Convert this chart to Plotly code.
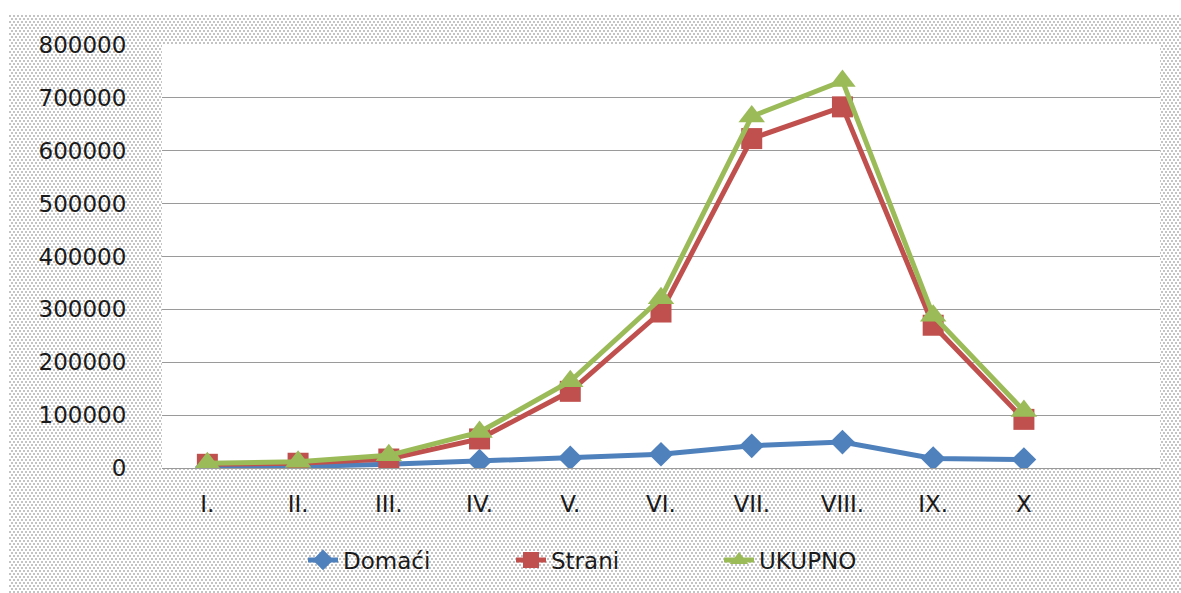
import base64
import plotly.graph_objects as go

months = ["I.", "II.", "III.", "IV.", "V.", "VI.", "VII.", "VIII.", "IX.", "X", " "]
domaci = [2000, 3000, 7000, 13000, 19000, 26000, 42000, 49000, 18000, 16000]
strani = [7000, 9000, 17000, 55000, 145000, 295000, 623000, 683000, 270000, 92000]
ukupno = [9000, 12000, 24000, 68000, 164000, 321000, 665000, 732000, 288000, 108000]
y_ticks = [0, 100000, 200000, 300000, 400000, 500000, 600000, 700000, 800000]

W, H = 1181, 593
L, R, T, B = 162, 21, 45, 125
pw, ph = W - L - R, H - T - B

# dotted background pattern (as svg image)
bx0, by0 = 9, 15
bw, bh = W - bx0, H - by0
svg = (
    f'<svg xmlns="http://www.w3.org/2000/svg" width="{bw}" height="{bh}">'
    '<defs><pattern id="p" width="4" height="6" patternUnits="userSpaceOnUse">'
    '<rect width="4" height="6" fill="#ffffff"/>'
    '<rect x="0" y="0" width="2" height="2" fill="#c4c4c4"/>'
    '<rect x="2" y="3" width="2" height="2" fill="#c4c4c4"/>'
    '</pattern></defs>'
    f'<rect width="{bw}" height="{bh}" fill="url(#p)"/></svg>'
)
src = "data:image/svg+xml;base64," + base64.b64encode(svg.encode()).decode()

def px2x(px):
    return (px - L) / pw

def py2y(py):
    return (H - B - py) / ph

blue, red, green = "#4F81BD", "#C0504D", "#9BBB59"
font = "DejaVu Sans"
fs = 23

fig = go.Figure()
fig.add_trace(go.Scatter(x=months[:10], y=domaci, name="Domaći", mode="lines+markers",
                         line=dict(color=blue, width=5),
                         marker=dict(symbol="diamond", size=19, color=blue)))
fig.add_trace(go.Scatter(x=months[:10], y=strani, name="Strani", mode="lines+markers",
                         line=dict(color=red, width=5),
                         marker=dict(symbol="square", size=21, color=red)))
fig.add_trace(go.Scatter(x=months[:10], y=ukupno, name="UKUPNO", mode="lines+markers",
                         line=dict(color=green, width=5),
                         marker=dict(symbol="triangle-up", size=23, color=green)))
# ensure the empty 11th category exists on the axis
fig.add_trace(go.Scatter(x=[months[10]], y=[None], showlegend=False, hoverinfo="skip"))

fig.update_layout(
    width=W, height=H,
    margin=dict(l=L, r=R, t=T, b=B, autoexpand=False),
    paper_bgcolor="white",
    plot_bgcolor="white",
    font=dict(family=font, size=fs, color="#1a1a1a"),
    showlegend=True,
    legend=dict(orientation="h", x=px2x(615), xanchor="center",
                y=py2y(560), yanchor="middle", font=dict(size=fs),
                bgcolor="rgba(0,0,0,0)", entrywidth=163),
    images=[dict(source=src, xref="paper", yref="paper", x=px2x(bx0), y=py2y(by0),
                 sizex=bw / pw, sizey=bh / ph, xanchor="left", yanchor="top",
                 sizing="stretch", layer="below")],
    shapes=[dict(type="rect", xref="paper", yref="paper", x0=0, x1=1, y0=0, y1=1,
                 fillcolor="white", line=dict(width=0), layer="below")],
    xaxis=dict(categoryorder="array", categoryarray=months, range=[-0.5, 10.5],
               showgrid=False, showline=False, zeroline=False,
               ticks="outside", ticklen=15, tickcolor="rgba(0,0,0,0)",
               tickfont=dict(size=fs)),
    yaxis=dict(range=[0, 800000], tickvals=y_ticks, ticktext=[str(v) for v in y_ticks],
               showgrid=True, gridcolor="#9a9a9a", gridwidth=1, zeroline=True,
               zerolinecolor="#9a9a9a", zerolinewidth=1, showline=False,
               ticks="outside", ticklen=30, tickcolor="rgba(0,0,0,0)",
               tickfont=dict(size=fs)),
)

fig.write_html("out.html", config={"displayModeBar": False},
               post_script="document.body.style.margin='0';")
